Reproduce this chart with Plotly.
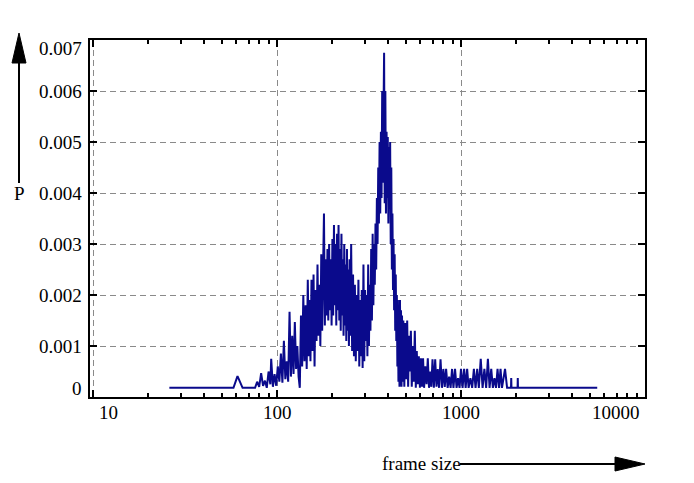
import plotly.graph_objects as go
import math

# ---- data: frame size distribution ----
# rising flank
sizes_rise = [26, 58, 61, 65, 76, 78, 80, 82, 84, 86, 88, 90, 92, 93, 95, 97, 99,
              101, 103, 105, 107, 109, 111, 113, 115, 117, 119, 121, 123, 125,
              127, 129, 131, 133, 135, 137, 139, 141, 143, 145, 147, 149]
p_rise = [0.00018, 0.00018, 0.00041, 0.00018, 0.00018, 0.00030, 0.00020, 0.00047,
          0.00022, 0.00032, 0.00018, 0.00050, 0.00025, 0.00075, 0.00020, 0.00045,
          0.00022, 0.00060, 0.00030, 0.00085, 0.00028, 0.00110, 0.00035, 0.00070,
          0.00030, 0.00167, 0.00040, 0.00120, 0.00045, 0.00147, 0.00055, 0.00100,
          0.00040, 0.00018, 0.00160, 0.00060, 0.00200, 0.00070, 0.00180, 0.00055,
          0.00230, 0.00080]

# first hump
sizes_hump = [150, 152, 154, 156, 158, 160, 162, 164, 166, 168, 170, 172, 174, 176,
              178, 180, 182, 184, 186, 188, 190, 192, 194, 196, 198, 200, 202, 204,
              206, 208, 210, 212, 214, 216, 218, 220, 222, 224, 226, 228, 230, 232,
              234, 236, 238, 240, 242, 244, 246, 248, 250]
p_hump = [0.0019, 0.0007, 0.0023, 0.0009, 0.0024, 0.0006, 0.0021, 0.0011, 0.0026,
          0.0012, 0.0022, 0.0010, 0.0028, 0.0013, 0.0025, 0.0036, 0.0014, 0.0027,
          0.0016, 0.0029, 0.0015, 0.0030, 0.0017, 0.0027, 0.0014, 0.0031, 0.0016,
          0.00337, 0.0018, 0.0030, 0.0014, 0.0032, 0.0017, 0.00337, 0.0015, 0.0029,
          0.0013, 0.0032, 0.0016, 0.0027, 0.0012, 0.0030, 0.0014, 0.0026, 0.0011,
          0.0029, 0.0013, 0.0025, 0.0010, 0.0027, 0.0012]

# valley and main peak
sizes_peak = [253, 256, 259, 262, 265, 268, 271, 274, 277, 280, 283, 286, 289, 292,
              295, 298, 301, 304, 307, 310, 313, 316, 319, 322, 325, 328, 331, 334,
              337, 340, 343, 346, 349, 352, 355, 358, 361, 364, 367, 370, 373, 376,
              379, 382, 385, 388, 391, 394, 397, 400, 403, 406, 409, 412, 415, 418,
              421, 424, 427, 430, 433, 436, 439, 442, 445, 448, 451, 454, 457, 460,
              463, 466, 469, 472, 475, 478]
p_peak = [0.0030, 0.0009, 0.0024, 0.0008, 0.0022, 0.0007, 0.0020, 0.0009, 0.0023,
          0.0006, 0.0019, 0.0008, 0.0021, 0.00057, 0.0026, 0.0007, 0.0021, 0.0011,
          0.0020, 0.0008, 0.0026, 0.0010, 0.0022, 0.0013, 0.0029, 0.0015, 0.0032,
          0.0018, 0.0030, 0.0022, 0.0034, 0.0025, 0.0039, 0.0030, 0.0045, 0.0034,
          0.0050, 0.0036, 0.0052, 0.0039, 0.0060, 0.0042, 0.0056, 0.00675, 0.0038,
          0.0060, 0.0036, 0.0052, 0.0039, 0.0051, 0.0034, 0.0049, 0.0037, 0.0050,
          0.0030, 0.0045, 0.0025, 0.0036, 0.0021, 0.0031, 0.0017, 0.0028, 0.0013,
          0.0024, 0.0011, 0.0020, 0.0006, 0.0019, 0.0003, 0.0018, 0.0002, 0.0019,
          0.0004, 0.0017, 0.0002, 0.0016]

# long tail
sizes_tail = [482, 486, 492, 498, 504, 510, 516, 522, 528, 534, 540, 547, 554, 561,
              568, 575, 582, 590, 598, 606, 614, 622, 630, 640, 650, 660, 670, 680,
              690, 700, 712, 724, 736, 748, 760, 774, 788, 802, 816, 830, 846, 862,
              878, 894, 910, 928, 946, 964, 982, 1000, 1020, 1040, 1060, 1080, 1100,
              1125, 1150, 1175, 1200, 1225, 1250, 1280, 1310, 1340, 1370, 1400, 1430,
              1460, 1490, 1520, 1550, 1580, 1610, 1640, 1670, 1700, 1735, 1780, 1870,
              1875, 1880, 2030, 2035, 2040, 5500]
p_tail = [0.0003, 0.0015, 0.0002, 0.00145, 0.00035, 0.0015, 0.0002, 0.0012, 0.0005,
          0.0013, 0.0002, 0.0010, 0.0003, 0.0013, 0.00018, 0.0009, 0.00025, 0.0008,
          0.00018, 0.00076, 0.0002, 0.00076, 0.00018, 0.0006, 0.00025, 0.00076,
          0.00018, 0.0005, 0.0002, 0.00074, 0.00018, 0.00074, 0.0002, 0.00055,
          0.00018, 0.00074, 0.00018, 0.00055, 0.0002, 0.00055, 0.00018, 0.0004,
          0.00018, 0.00055, 0.00018, 0.00055, 0.00018, 0.00037, 0.00018, 0.00055,
          0.00018, 0.00055, 0.00018, 0.00055, 0.00018, 0.00037, 0.00018, 0.00055,
          0.00018, 0.00055, 0.00018, 0.00075, 0.00018, 0.00055, 0.00018, 0.00075,
          0.00018, 0.00055, 0.00018, 0.00037, 0.00018, 0.00055, 0.00018, 0.00055,
          0.00018, 0.0004, 0.00055, 0.00018, 0.00018, 0.00037, 0.00018, 0.00018,
          0.00037, 0.00018, 0.00018]

frame_size = sizes_rise + sizes_hump + sizes_peak + sizes_tail
probability = p_rise + p_hump + p_peak + p_tail
assert len(frame_size) == len(probability), (len(frame_size), len(probability))

y_ticks = [0, 0.001, 0.002, 0.003, 0.004, 0.005, 0.006, 0.007]
y_tick_labels = ["0", "0.001", "0.002", "0.003", "0.004", "0.005", "0.006", "0.007"]
x_ticks = [10, 100, 1000, 10000]
x_tick_labels = ["10", "100", "1000", "10000"]

# ---- layout constants (page pixels; the page body adds an 8px offset) ----
OFF = 8
W, H = 694 - 2 * OFF, 483 - 2 * OFF
PL, PR, PT, PB = 90, 645, 40, 397          # plot frame in page pixels
ML, MT = PL - OFF, PT - OFF
MR, MB = W - (PR - OFF), H - (PB - OFF)
PW, PH = PR - PL, PB - PT
FONT = "Liberation Serif, Times New Roman, serif"
FS = 19


def px(xp):
    return (xp - PL) / PW


def py(yp):
    return (PB - yp) / PH


fig = go.Figure()
fig.add_trace(go.Scatter(
    x=frame_size, y=probability, mode="lines",
    line=dict(color="#0a0a8c", width=2),
    showlegend=False,
))

x_lo = 1 + (PL - 93) / 184.0
fig.update_xaxes(
    type="log", range=[x_lo, 4.0],
    showline=True, linecolor="black", linewidth=2, mirror="allticks",
    ticks="inside", ticklen=7, tickwidth=1.5, tickcolor="black",
    tickvals=x_ticks, showticklabels=False,
    showgrid=True, gridcolor="#8a8a8a", gridwidth=1, griddash="6px,4px",
    minor=dict(ticks="inside", ticklen=4, tickwidth=1.5, tickcolor="black",
               dtick="D1", showgrid=False),
    zeroline=False,
)
fig.update_yaxes(
    range=[0, 0.007],
    showline=True, linecolor="black", linewidth=2, mirror="allticks",
    ticks="inside", ticklen=7, tickwidth=1.5, tickcolor="black",
    tickvals=y_ticks, showticklabels=False,
    showgrid=True, gridcolor="#8a8a8a", gridwidth=1, griddash="6px,4px",
    zeroline=False,
)

annotations = []
x_shift = {10: 15, 10000: -29}
for v, lab in zip(x_ticks, x_tick_labels):
    annotations.append(dict(
        x=math.log10(v), xref="x", y=0, yref="paper", yshift=-15,
        xshift=x_shift.get(v, 0), text=lab, showarrow=False,
        xanchor="center", yanchor="middle",
        font=dict(family=FONT, size=FS, color="black"),
    ))
y_shift = {0: 9, 0.007: -8}
for v, lab in zip(y_ticks, y_tick_labels):
    annotations.append(dict(
        x=0, xref="paper", xshift=-6, y=v, yref="y",
        yshift=y_shift.get(v, 0), text=lab, showarrow=False,
        xanchor="right", yanchor="middle",
        font=dict(family=FONT, size=FS, color="black"),
    ))
annotations.append(dict(
    x=px(19), y=py(193), xref="paper", yref="paper", text="P",
    showarrow=False, xanchor="center", yanchor="middle",
    font=dict(family=FONT, size=FS, color="black"),
))
annotations.append(dict(
    x=px(380), y=py(463), xref="paper", yref="paper", text="frame size",
    showarrow=False, xanchor="left", yanchor="middle",
    font=dict(family=FONT, size=FS, color="black"),
))

shapes = [
    dict(type="line", xref="paper", yref="paper",
         x0=px(19), x1=px(19), y0=py(183), y1=py(60),
         line=dict(color="black", width=2)),
    dict(type="path", xref="paper", yref="paper",
         path=f"M {px(19)} {py(33)} L {px(12)} {py(63)} L {px(26)} {py(63)} Z",
         fillcolor="black", line=dict(color="black", width=1)),
    dict(type="line", xref="paper", yref="paper",
         x0=px(460), x1=px(618), y0=py(464), y1=py(464),
         line=dict(color="black", width=2)),
    dict(type="path", xref="paper", yref="paper",
         path=f"M {px(645)} {py(464)} L {px(615)} {py(457)} L {px(615)} {py(471)} Z",
         fillcolor="black", line=dict(color="black", width=1)),
]

fig.update_layout(
    width=W, height=H,
    margin=dict(l=ML, r=MR, t=MT, b=MB),
    paper_bgcolor="white", plot_bgcolor="white",
    annotations=annotations, shapes=shapes,
    font=dict(family=FONT, size=FS, color="black"),
)

fig.write_html("out.html")
